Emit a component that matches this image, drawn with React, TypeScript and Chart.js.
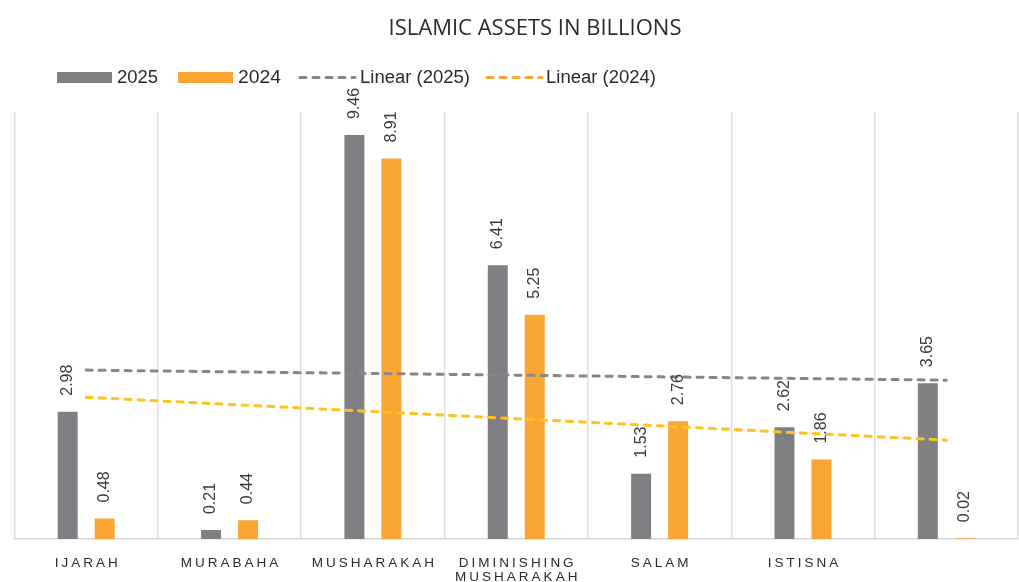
import React, { useEffect, useRef } from "react";
import { Chart, registerables } from "chart.js";

Chart.register(...registerables);

const chartTitle = "ISLAMIC ASSETS IN BILLIONS";
const categories: string[][] = [
  ["IJARAH"],
  ["MURABAHA"],
  ["MUSHARAKAH"],
  ["DIMINISHING", "MUSHARAKAH"],
  ["SALAM"],
  ["ISTISNA"],
  [""],
];
const values2025 = [2.98, 0.21, 9.46, 6.41, 1.53, 2.62, 3.65];
const values2024 = [0.48, 0.44, 8.91, 5.25, 2.76, 1.86, 0.02];
const seriesNames = ["2025", "2024", "Linear (2025)", "Linear (2024)"];
const yMin = 0;
const yMax = 10;

const GRAY = "#808084";
const ORANGE = "#FAA634";
const TREND_GRAY = "#868686";
const TREND_YELLOW = "#FFC21E";

// Least-squares linear trendline (as Excel's "Linear" trendline)
function linearTrend(vals: number[]): number[] {
  const n = vals.length;
  const xs = vals.map((_, i) => i);
  const mx = xs.reduce((a, b) => a + b, 0) / n;
  const my = vals.reduce((a, b) => a + b, 0) / n;
  let num = 0;
  let den = 0;
  for (let i = 0; i < n; i++) {
    num += (xs[i] - mx) * (vals[i] - my);
    den += (xs[i] - mx) * (xs[i] - mx);
  }
  const slope = num / den;
  const icpt = my - slope * mx;
  return xs.map((x) => icpt + slope * x);
}

const LABEL_FONT = '"Liberation Sans", Arial, Helvetica, sans-serif';

const overlayPlugin = {
  id: "overlay",
  afterDatasetsDraw(chart: any) {
    const ctx = chart.ctx as CanvasRenderingContext2D;
    [0, 1].forEach((di) => {
      const meta = chart.getDatasetMeta(di);
      const ds = chart.data.datasets[di];
      meta.data.forEach((el: any, i: number) => {
        const v = ds.data[i] as number;
        ctx.save();
        ctx.translate(el.x, el.y - 16);
        ctx.rotate(-Math.PI / 2);
        ctx.font = `16px ${LABEL_FONT}`;
        ctx.fillStyle = "#3a3a3a";
        ctx.textAlign = "left";
        ctx.textBaseline = "middle";
        ctx.fillText(v.toFixed(2), 0, 0);
        ctx.restore();
      });
    });
  },
  afterDraw(chart: any) {
    const ctx = chart.ctx as CanvasRenderingContext2D;
    const xScale = chart.scales.x;

    // Title
    ctx.save();
    ctx.font = `22px "Open Sans", sans-serif`;
    ctx.fillStyle = "#2b2b2b";
    ctx.textAlign = "center";
    ctx.textBaseline = "alphabetic";
    ctx.fillText(chartTitle, 535, 35);
    ctx.restore();

    // Legend
    ctx.save();
    ctx.font = `18px ${LABEL_FONT}`;
    ctx.textBaseline = "middle";
    ctx.textAlign = "left";
    const yc = 77.5;
    const items = [
      { kind: "box", color: GRAY, x: 57, tx: 117 },
      { kind: "box", color: ORANGE, x: 178, tx: 238 },
      { kind: "line", color: TREND_GRAY, x: 298, tx: 360 },
      { kind: "line", color: ORANGE, x: 485, tx: 546 },
    ];
    items.forEach((k, i) => {
      if (k.kind === "box") {
        ctx.fillStyle = k.color;
        ctx.fillRect(k.x, yc - 5.5, 55, 11);
      } else {
        ctx.save();
        ctx.strokeStyle = k.color;
        ctx.lineWidth = 3;
        ctx.lineCap = "round";
        ctx.setLineDash([6, 7]);
        ctx.beginPath();
        ctx.moveTo(k.x + 2, yc);
        ctx.lineTo(k.x + 57, yc);
        ctx.stroke();
        ctx.restore();
      }
      ctx.fillStyle = "#2b2b2b";
      ctx.save();
      const w = ctx.measureText(seriesNames[i]).width;
      const target = [41, 43, 110, 110][i];
      ctx.translate(k.tx, yc + 1);
      ctx.scale(target / w, 1);
      ctx.fillText(seriesNames[i], 0, 0);
      ctx.restore();
    });
    ctx.restore();

    // Category labels (letter-spaced)
    ctx.save();
    ctx.font = `13.5px ${LABEL_FONT}`;
    ctx.fillStyle = "#2b2b2b";
    ctx.textAlign = "center";
    ctx.textBaseline = "alphabetic";
    const spacing = 3.0;
    (ctx as any).letterSpacing = `${spacing}px`;
    categories.forEach((lines, i) => {
      const cx = xScale.getPixelForValue(i) + spacing / 2;
      lines.forEach((ln, j) => {
        ctx.fillText(ln, cx, 567 + j * 14);
      });
    });
    ctx.restore();
  },
};

export default function App() {
  const canvasRef = useRef<HTMLCanvasElement | null>(null);

  useEffect(() => {
    if (!canvasRef.current) return;
    const chart = new Chart(canvasRef.current, {
      type: "bar",
      data: {
        labels: categories,
        datasets: [
          {
            type: "bar",
            label: seriesNames[0],
            data: values2025,
            backgroundColor: GRAY,
            categoryPercentage: 0.516,
            barPercentage: 0.54,
            order: 1,
          },
          {
            type: "bar",
            label: seriesNames[1],
            data: values2024,
            backgroundColor: ORANGE,
            categoryPercentage: 0.516,
            barPercentage: 0.54,
            order: 1,
          },
          {
            type: "line",
            label: seriesNames[2],
            data: linearTrend(values2025),
            borderColor: TREND_GRAY,
            borderWidth: 3,
            borderDash: [6, 7],
            borderCapStyle: "round",
            pointRadius: 0,
            fill: false,
            order: 0,
          },
          {
            type: "line",
            label: seriesNames[3],
            data: linearTrend(values2024),
            borderColor: TREND_YELLOW,
            borderWidth: 3,
            borderDash: [6, 7],
            borderCapStyle: "round",
            pointRadius: 0,
            fill: false,
            order: 0,
          },
        ] as any,
      },
      options: {
        responsive: false,
        animation: false,
        devicePixelRatio: 1,
        layout: { padding: { top: 112, left: 14.5, right: 1, bottom: 43 } },
        plugins: {
          legend: { display: false },
          title: { display: false },
          tooltip: { enabled: false },
        },
        scales: {
          x: {
            grid: {
              offset: true,
              color: "#e0e0e0",
              lineWidth: 1.5,
              drawTicks: false,
            },
            border: { display: true, color: "#d6d6d6", width: 1.5 },
            ticks: { display: false },
          },
          y: {
            display: false,
            min: yMin,
            max: yMax,
          },
        },
      },
      plugins: [overlayPlugin],
    });
    return () => chart.destroy();
  }, []);

  return (
    <div style={{ position: "fixed", left: 0, top: 0, width: 1019, height: 582, background: "#fff" }}>
      <canvas ref={canvasRef} width={1019} height={582} style={{ display: "block" }} />
    </div>
  );
}
